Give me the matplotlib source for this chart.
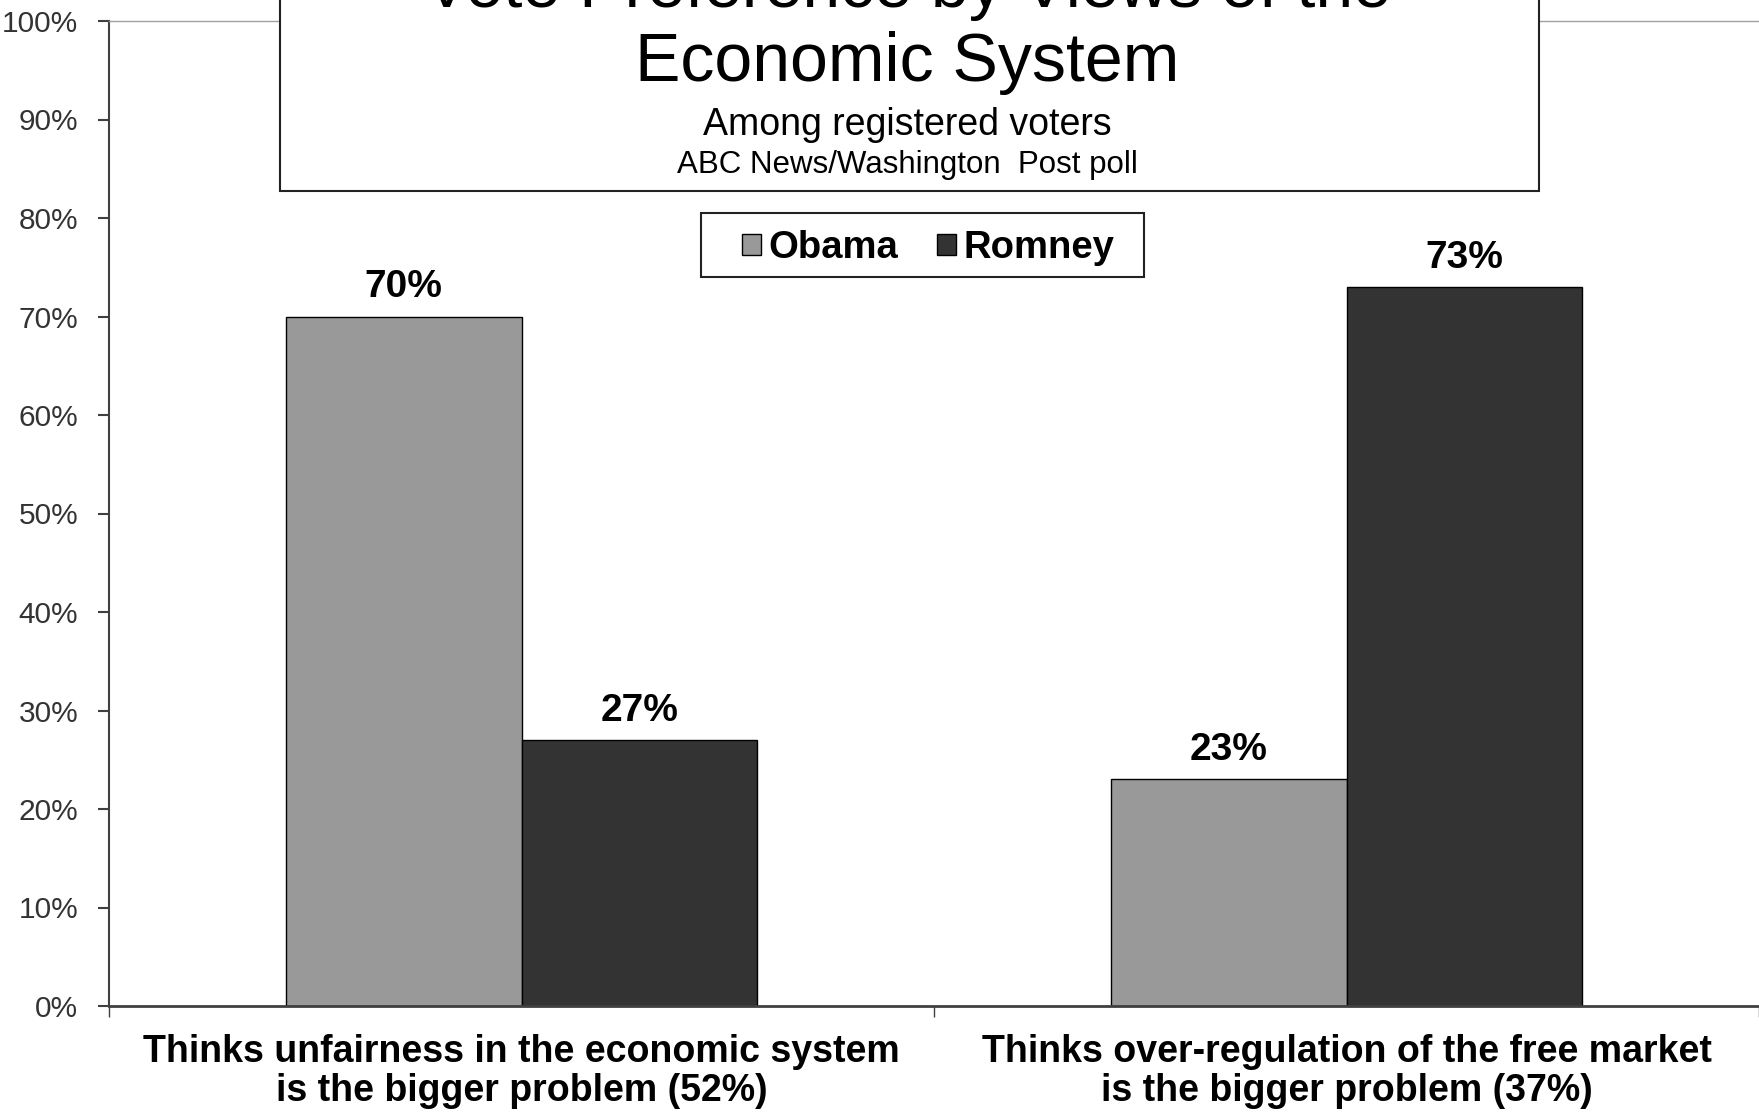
import matplotlib.pyplot as plt
import matplotlib.patches as mpatches
import numpy as np

plt.rcParams['font.family'] = ['Liberation Sans', 'DejaVu Sans']

categories = ['Thinks unfairness in the economic system\nis the bigger problem (52%)',
              'Thinks over-regulation of the free market\nis the bigger problem (37%)']
series = ['Obama', 'Romney']
obama = [70, 23]
romney = [27, 73]
colors = ['#999999', '#333333']

W, H = 1759, 1114
fig = plt.figure(figsize=(W / 100, H / 100), dpi=100)
ax = fig.add_axes([109 / W, 108 / H, 1 - 109 / W, (1006 - 21) / H])

x = np.arange(len(categories))
w = 210 / 736
b1 = ax.bar(x - w / 2, obama, w, color=colors[0], edgecolor='black', linewidth=1, label=series[0])
b2 = ax.bar(x + w / 2, romney, w, color=colors[1], edgecolor='black', linewidth=1, label=series[1])
for bars in (b1, b2):
    ax.bar_label(bars, labels=[f'{v}%' for v in bars.datavalues], padding=8,
                 fontsize=28, fontweight='bold')

ax.set_xlim(-0.5, 1.5)
ax.set_ylim(0, 100)
ax.set_yticks(np.arange(0, 101, 10))
ax.set_yticklabels([f'{v}%' for v in range(0, 101, 10)])
ax.tick_params(axis='y', labelsize=21.5, labelcolor='#333333', length=8, width=1.5,
               color='#404040', pad=14)
ax.set_xticks(x)
ax.set_xticklabels(categories, fontsize=27, fontweight='bold', linespacing=1.12)
ax.tick_params(axis='x', length=0, pad=20)
ax.set_xticks([-0.5, 0.5, 1.5], minor=True)
ax.tick_params(axis='x', which='minor', length=8, width=1, color='#404040')

ax.spines['right'].set_visible(False)
ax.spines['top'].set_color('#a0a0a0')
ax.spines['top'].set_linewidth(1)
ax.spines['left'].set_color('#404040')
ax.spines['left'].set_linewidth(1.5)
ax.spines['bottom'].set_color('#404040')
ax.spines['bottom'].set_linewidth(2)

# title box
fig.patches.append(mpatches.Rectangle((280 / W, 1 - 191 / H), (1539 - 280) / W, 191 / H + 0.05,
                                      transform=fig.transFigure, facecolor='white',
                                      edgecolor='#222222', linewidth=1.5, zorder=2))
cx = 907 / W
fig.text(cx, 1 - 7 / H, 'Vote Preference by Views of the', ha='center', va='baseline',
         fontsize=49, zorder=3)
fig.text(cx, 1 - 81 / H, 'Economic System', ha='center', va='baseline', fontsize=49, zorder=3)
fig.text(cx, 1 - 135 / H, 'Among registered voters', ha='center', va='baseline', fontsize=27, zorder=3)
fig.text(cx, 1 - 173 / H, 'ABC News/Washington  Post poll', ha='center', va='baseline',
         fontsize=22.5, zorder=3)

# legend
fig.patches.append(mpatches.Rectangle((701 / W, 1 - 277 / H), (1144 - 701) / W, 64 / H,
                                      transform=fig.transFigure, facecolor='white',
                                      edgecolor='#222222', linewidth=1.5, zorder=2))
leg = fig.legend(loc='center', bbox_to_anchor=(928 / W, 1 - 248 / H), ncol=2, frameon=False,
                 prop={'size': 27.5, 'weight': 'bold'}, handlelength=0.5, handleheight=0.5,
                 handletextpad=0.2, columnspacing=1.0)
leg.set_zorder(3)

fig.savefig('out.png', dpi=100)
